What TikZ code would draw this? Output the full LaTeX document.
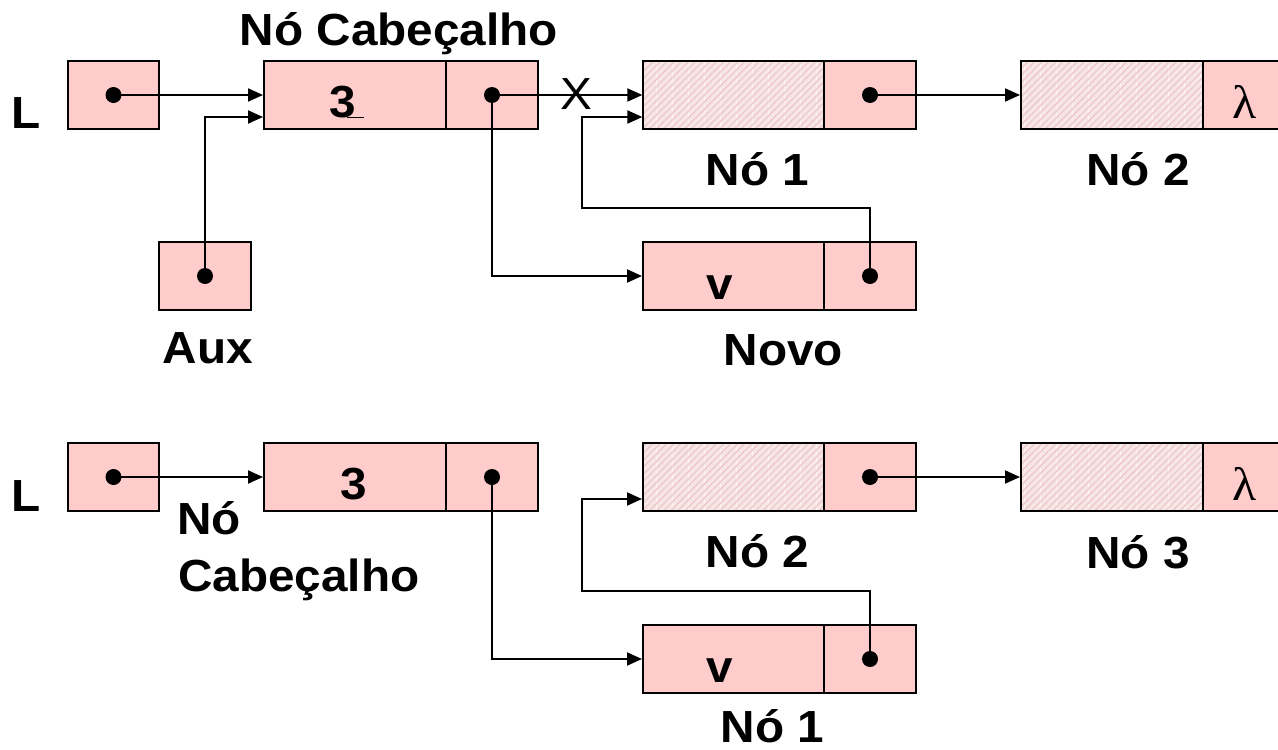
\documentclass[tikz,border=0pt]{standalone}
\usepackage{fontspec}
\setmainfont[FakeStretch=1.06]{Liberation Sans}
\newfontfamily\lamfont[FakeStretch=1.06]{Liberation Serif}
\usetikzlibrary{arrows.meta,patterns.meta}
\definecolor{cellpink}{HTML}{FFCCCC}
\definecolor{hatchbg}{HTML}{F8E6E6}
\definecolor{hatchln}{HTML}{EDC8C8}
\begin{document}
\begin{tikzpicture}[x=1pt,y=-1pt,
  cell/.style={draw=black, line width=2pt, fill=cellpink, rectangle, inner sep=0pt, minimum height=68pt},
  hatched/.style={draw=black, line width=2pt, rectangle, inner sep=0pt, minimum height=68pt,
    preaction={fill=hatchbg},
    preaction={pattern={Lines[angle=90,distance=16pt,line width=0.7pt]}, pattern color=white!50!hatchbg},
    pattern={Lines[angle=45,distance=5pt,line width=1.3pt]}, pattern color=hatchln},
  conn/.style={line width=2pt, -{Triangle[length=15pt,width=13pt]}},
  txt/.style={font=\fontsize{45}{54}\selectfont\bfseries, inner sep=0pt, anchor=base},
  txtw/.style={font=\fontsize{45}{54}\selectfont\bfseries, inner sep=0pt, anchor=base west},
  dotr/.style={fill=black}]
\useasboundingbox (0,0) rectangle (1278,750);
\clip (0,0) rectangle (1278,750);

% ---------------- top diagram ----------------
\node[cell, minimum width=91pt] (Lt) at (113.5,95) {};
\node[cell, minimum width=182pt] (Hta) at (355,95) {};
\node[cell, minimum width=92pt] (Htb) at (492,95) {};
\node[hatched, minimum width=181pt] (N1ta) at (733.5,95) {};
\node[cell, minimum width=92pt] (N1tb) at (870,95) {};
\node[hatched, minimum width=182pt] (N2ta) at (1112,95) {};
\node[cell, minimum width=92pt] (N2tb) at (1249,95) {};
\node[cell, minimum width=92pt] (Aux) at (205,276) {};
\node[cell, minimum width=181pt] (Nva) at (733.5,276) {};
\node[cell, minimum width=92pt] (Nvb) at (870,276) {};

\node[txt] (tL) at (26,128) {L};
\node[txt] (tHdr) at (399,45) {Nó Cabeçalho};
\node[txt] (t3a) at (343,117) {3};
\draw[line width=1pt] (347,117) -- (364,117);
\node[txt] (tN1) at (757.5,185) {Nó 1};
\node[txt] (tN2) at (1138,185) {Nó 2};
\node[txt] (tAux) at (208,363) {Aux};
\node[txt] (tva) at (720,299) {v};
\node[txt] (tNovo) at (783.5,365) {Novo};
\node[inner sep=0pt, anchor=base, font=\fontsize{47}{54}\selectfont\lamfont] (tlam1) at (1245,118) {λ};

\coordinate (rt) at (582,208);
\draw[conn] (Lt.center) -- (Hta.west);
\draw[conn] (Aux.center) |- ([yshift=-22pt]Hta.west);
\draw[conn] (Htb.center) -- (N1ta.west);
\draw[conn] (Htb.center) |- (Nva.west);
\draw[conn] (Nvb.center) |- (rt) |- ([yshift=-22pt]N1ta.west);
\draw[conn] (N1tb.center) -- (N2ta.west);
\node[inner sep=0pt, anchor=base, font=\fontsize{45}{54}\selectfont] (tX) at (576,109) {X};

\fill[dotr] (Lt.center) circle (8pt);
\fill[dotr] (Htb.center) circle (8pt);
\fill[dotr] (N1tb.center) circle (8pt);
\fill[dotr] (Aux.center) circle (8pt);
\fill[dotr] (Nvb.center) circle (8pt);

% ---------------- bottom diagram ----------------
\node[cell, minimum width=91pt] (Lb) at (113.5,477) {};
\node[cell, minimum width=182pt] (Hba) at (355,477) {};
\node[cell, minimum width=92pt] (Hbb) at (492,477) {};
\node[hatched, minimum width=181pt] (N2ba) at (733.5,477) {};
\node[cell, minimum width=92pt] (N2bb) at (870,477) {};
\node[hatched, minimum width=182pt] (N3ba) at (1112,477) {};
\node[cell, minimum width=92pt] (N3bb) at (1249,477) {};
\node[cell, minimum width=181pt] (N1ba) at (733.5,659) {};
\node[cell, minimum width=92pt] (N1bb) at (870,659) {};

\node[txt] (bL) at (26,511) {L};
\node[txt] (b3) at (354,499) {3};
\node[txtw] (bNo) at (177,534) {Nó};
\node[txtw] (bCab) at (178,591) {Cabeçalho};
\node[txt] (bN2) at (757.5,567) {Nó 2};
\node[txt] (bN3) at (1138,568) {Nó 3};
\node[txt] (bv) at (720,682) {v};
\node[txt] (bN1) at (772.5,742) {Nó 1};
\node[inner sep=0pt, anchor=base, font=\fontsize{47}{54}\selectfont\lamfont] (tlam2) at (1245,500) {λ};

\coordinate (rb) at (582,591);
\draw[conn] (Lb.center) -- (Hba.west);
\draw[conn] (Hbb.center) |- (N1ba.west);
\draw[conn] (N1bb.center) |- (rb) |- ([yshift=-22pt]N2ba.west);
\draw[conn] (N2bb.center) -- (N3ba.west);

\fill[dotr] (Lb.center) circle (8pt);
\fill[dotr] (Hbb.center) circle (8pt);
\fill[dotr] (N2bb.center) circle (8pt);
\fill[dotr] (N1bb.center) circle (8pt);
\end{tikzpicture}
\end{document}
